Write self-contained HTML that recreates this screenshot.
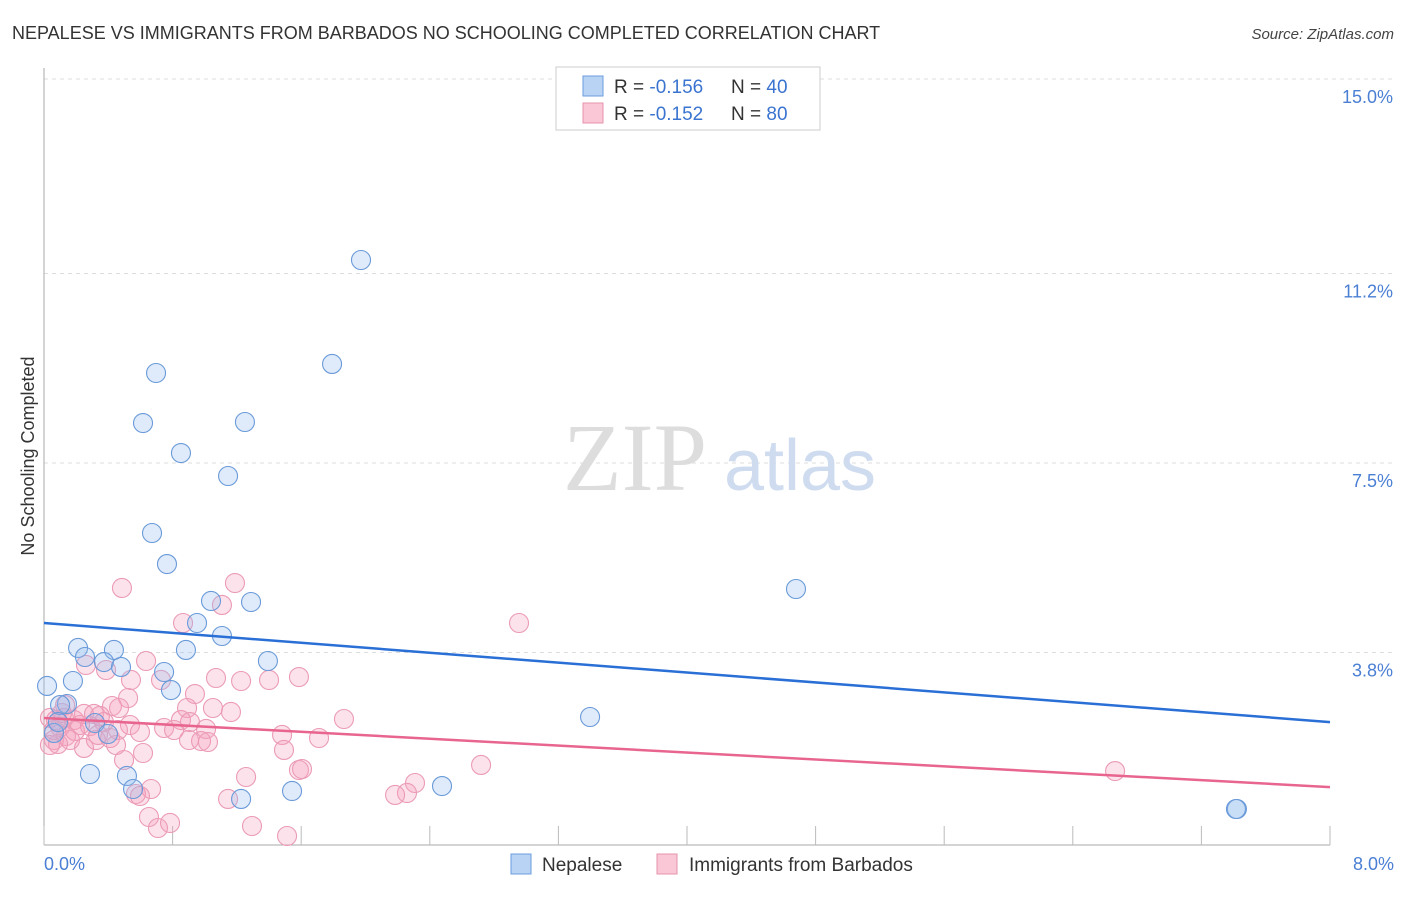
<!DOCTYPE html>
<html><head><meta charset="utf-8"><style>
body{margin:0;background:#fff;font-family:"Liberation Sans",sans-serif;}
</style></head><body>
<svg width="1406" height="892" xmlns="http://www.w3.org/2000/svg" style="font-family:'Liberation Sans',sans-serif">
<text x="12" y="39" font-size="18" fill="#333">NEPALESE VS IMMIGRANTS FROM BARBADOS NO SCHOOLING COMPLETED CORRELATION CHART</text>
<text x="1394" y="39" font-size="15" fill="#444" font-style="italic" text-anchor="end">Source: ZipAtlas.com</text>
<g id="grid"></g>
<g><text x="635" y="490" font-size="96" fill="#ddd" text-anchor="middle" font-family="Liberation Serif,serif">ZIP</text><text x="800" y="490" font-size="72" fill="#cfdcf0" text-anchor="middle">atlas</text></g>
<line x1="44" y1="68" x2="44" y2="845" stroke="#aaa"/>
<line x1="44" y1="845" x2="1330" y2="845" stroke="#aaa"/>
<g id="xticks"></g>
<text x="-456" y="34" transform="rotate(-90)" font-size="18" fill="#333" text-anchor="middle">No Schooling Completed</text>
<text x="44" y="870" font-size="18" fill="#4a7fd4">0.0%</text>
<text x="1394" y="870" font-size="18" fill="#4a7fd4" text-anchor="end">8.0%</text>
<g id="pts"></g>
<g id="lines"></g>
<g>
<rect x="556" y="67" width="264" height="63" fill="#fff" stroke="#ccc"/>
<rect x="583" y="76" width="20" height="20" fill="#b9d3f5" stroke="#6b9ee0"/>
<rect x="583" y="103" width="20" height="20" fill="#f9c7d6" stroke="#e893ad"/>
<text x="614" y="93" font-size="19" fill="#333">R = <tspan fill="#3a74d0">-0.156</tspan></text>
<text x="731" y="93" font-size="19" fill="#333">N = <tspan fill="#3a74d0">40</tspan></text>
<text x="614" y="120" font-size="19" fill="#333">R = <tspan fill="#3a74d0">-0.152</tspan></text>
<text x="731" y="120" font-size="19" fill="#333">N = <tspan fill="#3a74d0">80</tspan></text>
</g>
<g>
<rect x="511" y="854" width="20" height="20" fill="#b9d3f5" stroke="#6b9ee0"/>
<text x="542" y="871" font-size="19" fill="#333">Nepalese</text>
<rect x="657" y="854" width="20" height="20" fill="#f9c7d6" stroke="#e893ad"/>
<text x="689" y="871" font-size="19" fill="#333">Immigrants from Barbados</text>
</g>
</svg>
<script>
const yTicks=[3.8,7.5,11.2,15.0];
const yTickLabels=["3.8%","7.5%","11.2%","15.0%"];
const xTicks=[0,0.8,1.6,2.4,3.2,4.0,4.8,5.6,6.4,7.2,8.0];
const bluePx=[[361,260],[332,364],[156,373],[143,423],[245,422],[181,453],[228,476],[152,533],[167,564],[211,601],[251,602],[796,589],[197,623],[222,636],[78,648],[114,650],[85,657],[186,650],[104,662],[268,661],[121,667],[164,672],[73,681],[47,686],[171,690],[67,704],[60,705],[590,717],[95,723],[108,734],[54,733],[90,774],[127,776],[133,789],[292,791],[442,786],[241,799],[1237,809],[1236,809],[58,722]];
const pinkPx=[[122,588],[235,583],[222,605],[519,623],[183,623],[146,661],[86,665],[106,670],[131,680],[216,678],[241,681],[269,680],[299,677],[161,680],[195,694],[128,698],[112,706],[119,708],[187,708],[213,708],[231,712],[344,719],[50,718],[56,720],[64,718],[74,720],[84,714],[94,714],[100,716],[60,727],[66,736],[75,731],[90,726],[104,722],[130,725],[140,732],[164,728],[181,720],[190,722],[206,729],[282,735],[319,738],[54,740],[58,744],[70,740],[84,748],[110,738],[189,740],[201,741],[284,750],[143,753],[124,760],[481,765],[1115,771],[246,777],[299,770],[302,769],[415,783],[407,793],[395,795],[151,789],[136,794],[140,796],[228,799],[149,817],[158,828],[170,823],[252,826],[287,836],[50,745],[62,713],[96,740],[118,730],[174,730],[208,742],[54,730],[80,725],[98,735],[116,745],[65,705]];
const toX=p=>(p-44)/1286*8, toY=p=>(847-p)/192*3.75;
const blueX=bluePx.map(p=>+toX(p[0]).toFixed(3)), blueY=bluePx.map(p=>+toY(p[1]).toFixed(3));
const pinkX=pinkPx.map(p=>+toX(p[0]).toFixed(3)), pinkY=pinkPx.map(p=>+toY(p[1]).toFixed(3));
const blueLine=[4.375,2.44], pinkLine=[2.52,1.17];
const sx=v=>44+v/8*1286, sy=v=>847-v/3.75*192;
const NS="http://www.w3.org/2000/svg";
function mk(t,a,parent){const e=document.createElementNS(NS,t);for(const k in a)e.setAttribute(k,a[k]);parent.appendChild(e);return e;}
const grid=document.getElementById('grid');
yTicks.forEach((v,i)=>{
 const y=i==3?79:sy(v);
 const l=mk('line',{x1:44,x2:1394,y1:y,y2:y,stroke:'#ddd','stroke-dasharray':'4,4'},grid);
 
 
 const t=mk('text',{x:1393,y:y+24,'font-size':18,fill:'#4a7fd4','text-anchor':'end'},grid);
 t.textContent=yTickLabels[i];
 
 
});
const xt=document.getElementById('xticks');
xTicks.forEach(v=>{const l=mk('line',{x1:sx(v),x2:sx(v),y1:826,y2:845,stroke:'#bbb'},xt);
 
 });
const pts=document.getElementById('pts');
pinkX.forEach((x,i)=>{const c=mk('circle',{cx:sx(x),cy:sy(pinkY[i]),r:9.5,fill:'rgba(244,160,190,0.3)',stroke:'#eb9bb6','stroke-width':1.1},pts);
 
 });
blueX.forEach((x,i)=>{const c=mk('circle',{cx:sx(x),cy:sy(blueY[i]),r:9.5,fill:'rgba(150,190,240,0.3)',stroke:'#6a9ad9','stroke-width':1.1},pts);
 
 });
const lg=document.getElementById('lines');
const bl=mk('line',{x1:sx(0),y1:sy(blueLine[0]),x2:sx(8),y2:sy(blueLine[1]),stroke:'#2a6fd6','stroke-width':2.5},lg);


const pl=mk('line',{x1:sx(0),y1:sy(pinkLine[0]),x2:sx(8),y2:sy(pinkLine[1]),stroke:'#e8658f','stroke-width':2.5},lg);


</script>
</body></html>
